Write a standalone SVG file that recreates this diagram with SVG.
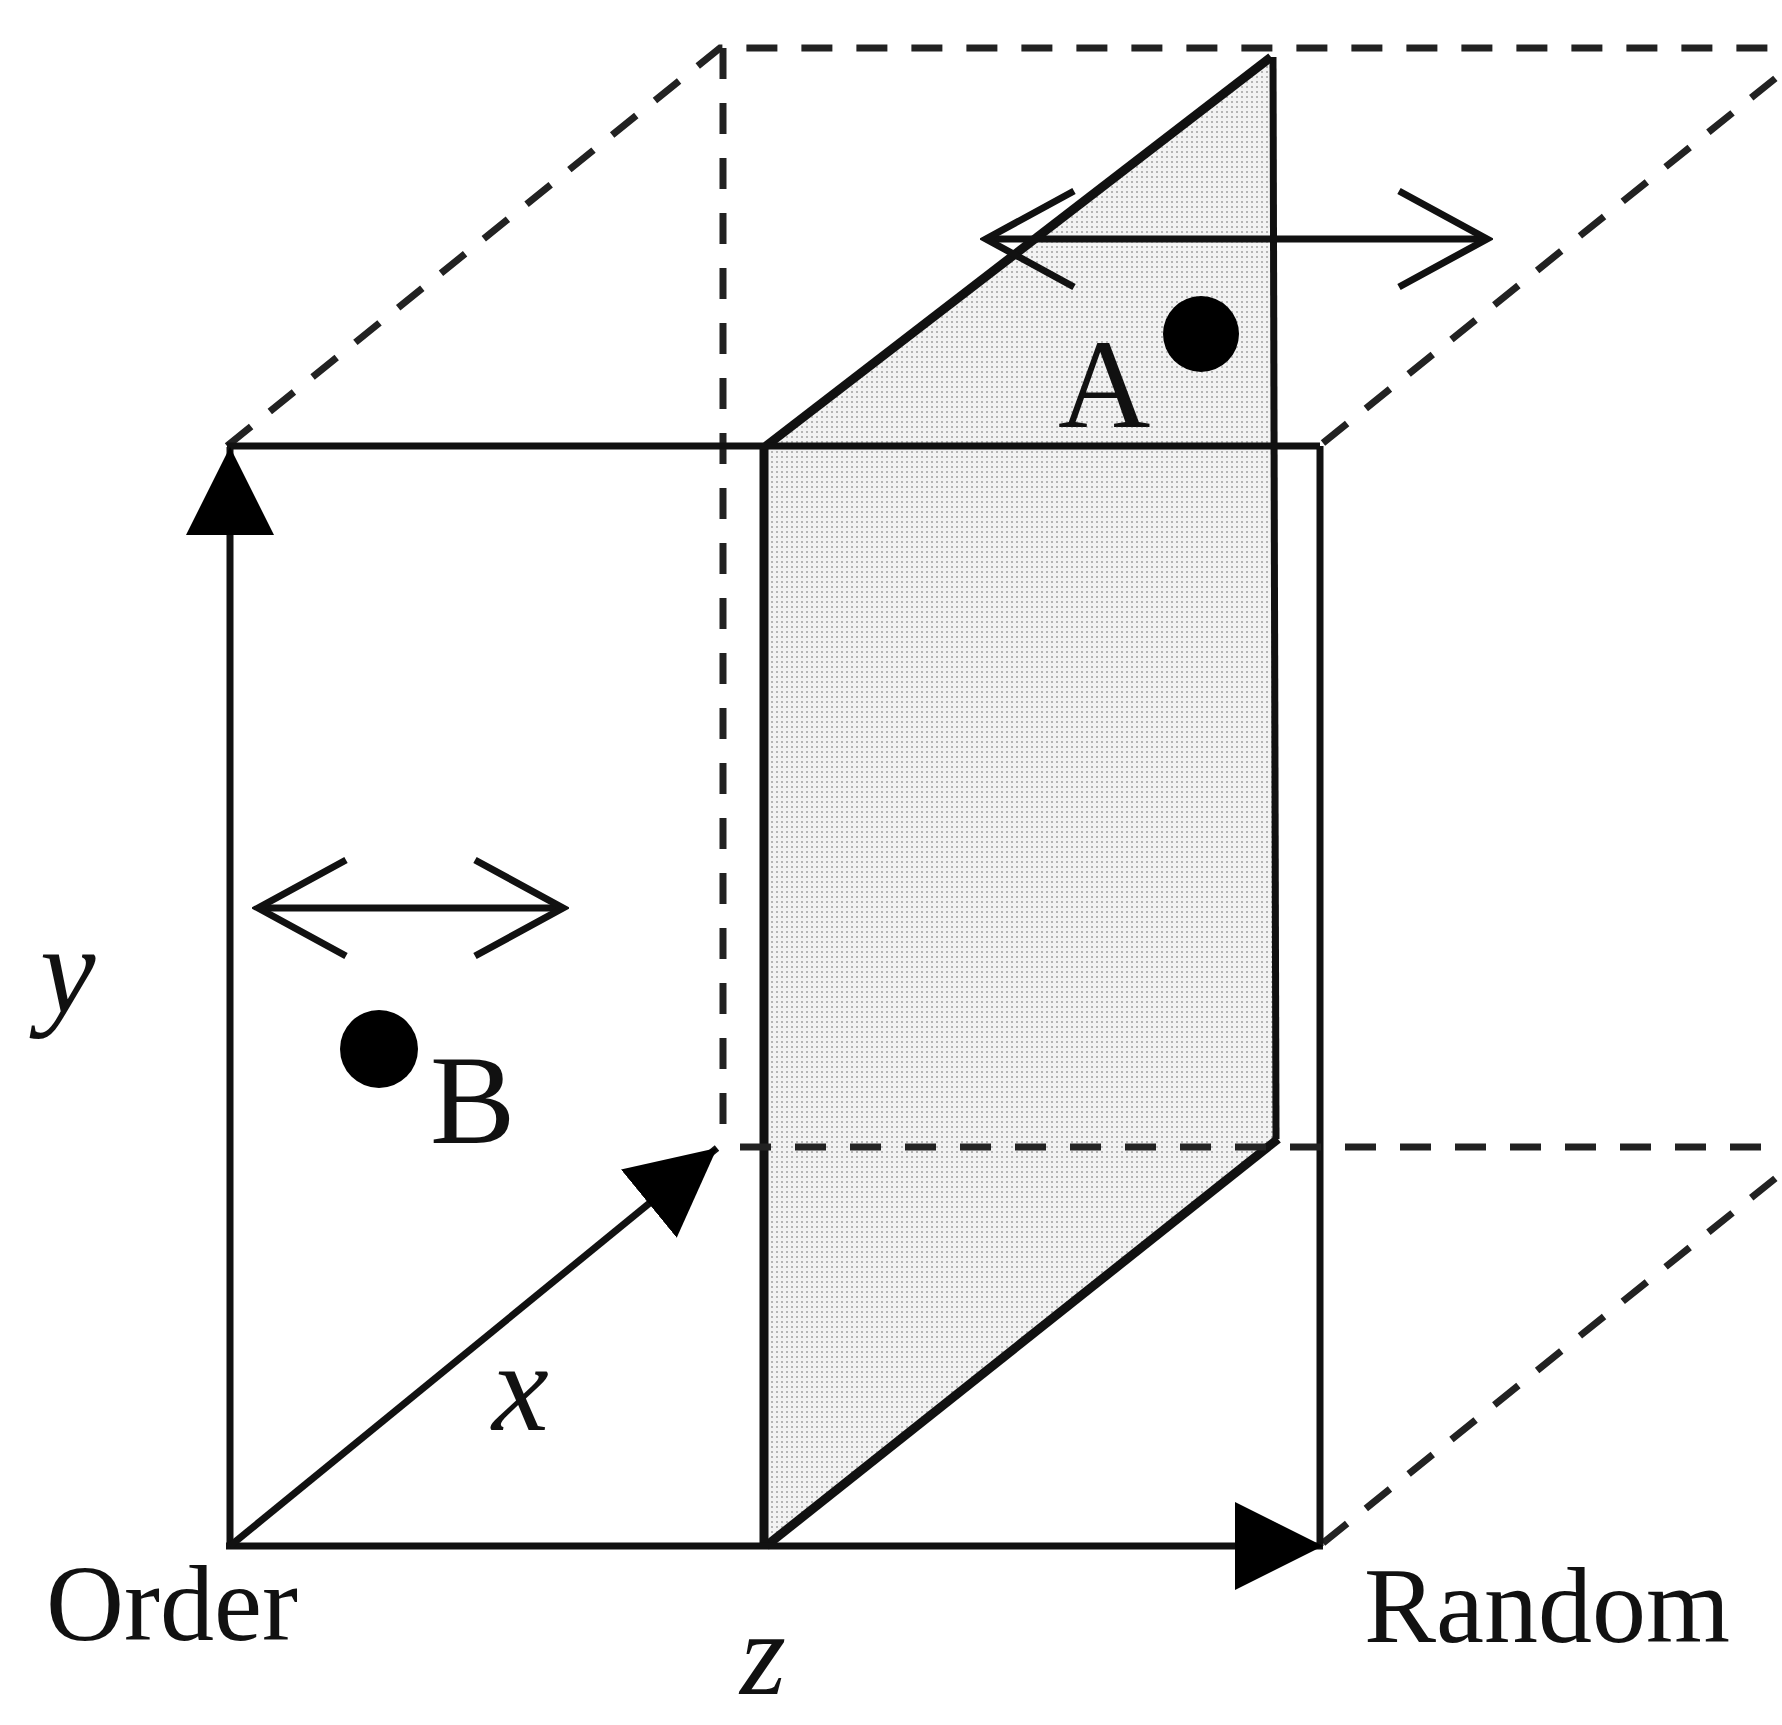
<svg xmlns="http://www.w3.org/2000/svg" width="1782" height="1725" viewBox="0 0 1782 1725">
  <style>
    .solid { stroke: #111; stroke-width: 7; fill: none; stroke-linecap: butt; }
    .thick { stroke: #111; stroke-width: 9; fill: none; stroke-linejoin: miter; }
    .dash { stroke: #222; stroke-width: 7; fill: none; stroke-dasharray: 31 24; }
    .lbl { font-family: "Liberation Serif", "Times New Roman", serif; fill: #111; }
    .ital { font-family: "Liberation Serif", "Times New Roman", serif; font-style: italic; fill: #111; }
    .dot { fill: #000; }
  </style>
  <defs>
    <pattern id="halftone" width="5" height="5" patternUnits="userSpaceOnUse">
      <rect width="5" height="5" fill="#f3f3f3"/>
      <rect x="1" y="1" width="2" height="2" fill="#b5b5b5"/>
    </pattern>
    <marker id="tri" viewBox="0 0 88 88" refX="88" refY="44" markerWidth="88" markerHeight="88" markerUnits="userSpaceOnUse" orient="auto">
      <path d="M0,0 L88,44 L0,88 z" fill="#000"/>
    </marker>
    <marker id="chev" viewBox="0 0 100 110" refX="94" refY="55" markerWidth="100" markerHeight="110" markerUnits="userSpaceOnUse" orient="auto-start-reverse">
      <path d="M6,7 L94,55 L6,103" fill="none" stroke="#111" stroke-width="7"/>
    </marker>
  </defs>
  <rect width="1782" height="1725" fill="#fff"/>

  <g id="back-box">
    <path class="dash" d="M227,446 L720,48 L1782,48"/>
    <path class="dash" d="M723,48 L723,1140"/>
    <path class="dash" d="M1323,443 L1782,73"/>
    <path class="dash" d="M1323,1543 L1782,1173"/>
  </g>

  <g id="plane">
    <path d="M766,446 L1271,57 L1276,1139 L766,1546 z" fill="url(#halftone)"/>
    <path class="thick" d="M766,446 L1271,57"/>
    <path class="solid" d="M1273,57 L1276,1139"/>
    <path class="thick" d="M1278,1139 L766,1546"/>
    <path class="thick" d="M764,446 L764,1546"/>
  </g>

  <g id="front-box">
    <path class="solid" d="M227,446 L1320,446"/>
    <path class="solid" d="M1320,446 L1320,1546"/>
    <path class="dash" d="M740,1147 L1782,1147"/>
  </g>

  <g id="connectors">
    <line class="solid" x1="230" y1="1549" x2="230" y2="447" marker-end="url(#tri)"/>
    <line class="solid" x1="226" y1="1546" x2="1323" y2="1546" marker-end="url(#tri)"/>
    <line class="solid" x1="230" y1="1546" x2="717" y2="1148" stroke-width="8" marker-end="url(#tri)"/>
    <line class="solid" x1="986" y1="239" x2="1487" y2="239" marker-start="url(#chev)" marker-end="url(#chev)"/>
    <line class="solid" x1="258" y1="908" x2="563" y2="908" marker-start="url(#chev)" marker-end="url(#chev)"/>
  </g>

  <g id="point-A">
    <circle class="dot" cx="1201" cy="334" r="38"/>
    <text class="lbl" x="1058" y="427" font-size="128">A</text>
  </g>
  <g id="point-B">
    <circle class="dot" cx="379" cy="1049" r="39"/>
    <text class="lbl" x="430" y="1143" font-size="128">B</text>
  </g>

  <g id="labels">
    <text class="ital" x="40" y="1012" font-size="125">y</text>
    <text class="ital" x="492" y="1430" font-size="128">x</text>
    <text class="ital" x="740" y="1694" font-size="118">z</text>
    <text class="lbl" x="46" y="1640" font-size="108">Order</text>
    <text class="lbl" x="1364" y="1642" font-size="108">Random</text>
  </g>
</svg>
